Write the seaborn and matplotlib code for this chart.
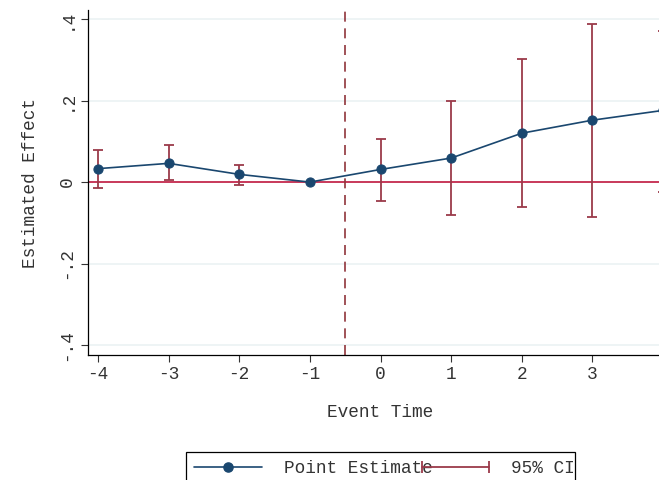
import numpy as np
import pandas as pd
import matplotlib
matplotlib.use("Agg")
import matplotlib.pyplot as plt
import seaborn as sns
from matplotlib.lines import Line2D
from matplotlib.patches import Rectangle
from matplotlib.legend_handler import HandlerLine2D

# ---- data ----
event_time = [-4, -3, -2, -1, 0, 1, 2, 3, 4]
estimate = [0.033, 0.046, 0.019, 0.0, 0.031, 0.059, 0.120, 0.152, 0.176]
ci_lower = [-0.015, 0.004, -0.006, np.nan, -0.047, -0.081, -0.062, -0.085, -0.025]
ci_upper = [0.080, 0.090, 0.042, np.nan, 0.107, 0.199, 0.303, 0.389, 0.370]
x_ticks = [-4, -3, -2, -1, 0, 1, 2, 3]
y_ticks = [-0.4, -0.2, 0.0, 0.2, 0.4]
y_tick_labels = ["-.4", "-.2", "0", ".2", ".4"]
ref_x = -0.5

sns.set_theme(style="white")
plt.rcParams['font.family'] = ['Liberation Mono', 'DejaVu Sans Mono']
FS = 12.8

navy = "#1a476f"
maroon = "#9b3a4a"
crimson = "#c8385a"
dashcol = "#90353b"

df = pd.DataFrame({"t": event_time, "b": estimate,
                   "lo": ci_lower, "hi": ci_upper})

fig = plt.figure(figsize=(6.59, 4.80), dpi=100)
W, H = 659, 480
ax = fig.add_axes([88 / W, 1 - 355 / H, (673 - 88) / W, (355 - 10) / H])

for y in y_ticks:
    ax.axhline(y, color="#eaf1f3", lw=1.1, zorder=0)

ax.axhline(0, color=crimson, lw=1.4, zorder=1)
ax.axvline(ref_x, color=dashcol, lw=1.2, ls=(0, (6, 4)), zorder=1)

err_lo = df["b"] - df["lo"]
err_hi = df["hi"] - df["b"]
ax.errorbar(df["t"], df["b"], yerr=[err_lo, err_hi], fmt="none",
            ecolor=maroon, elinewidth=1.3, capsize=3.3, capthick=1.3, zorder=2)

sns.lineplot(data=df, x="t", y="b", ax=ax, color=navy, lw=1.2,
             marker="o", markersize=6.6, markeredgecolor=navy,
             markerfacecolor=navy, zorder=3, legend=False)

ax.set_xlim(-4.141, 4.141)
ax.set_ylim(-0.4245, 0.4225)
ax.set_xticks(x_ticks)
ax.set_xticklabels([str(v) for v in x_ticks], fontsize=FS, color="#333333")
ax.set_yticks(y_ticks)
ax.set_yticklabels(y_tick_labels, fontsize=FS, rotation=90, va="center",
                   color="#333333")
ax.tick_params(axis="both", direction="out", length=5, width=0.8,
               color="#333333", bottom=True, left=True)
ax.tick_params(axis="x", pad=3)
ax.tick_params(axis="y", pad=4)

for s in ["top", "right"]:
    ax.spines[s].set_visible(False)
for s in ["left", "bottom"]:
    ax.spines[s].set_color("black")
    ax.spines[s].set_linewidth(0.9)

ax.set_xlabel("Event Time", fontsize=FS, color="#333333")
ax.set_ylabel("Estimated Effect", fontsize=FS, color="#333333")
ax.xaxis.set_label_coords((380 - 88) / (673 - 88), -(404 - 355) / 345)
ax.yaxis.set_label_coords(-(88 - 39) / 585, (355 - 183) / 345)

h1 = Line2D([], [], color=navy, lw=1.2, marker="o", markersize=6.6,
            markerfacecolor=navy, markeredgecolor=navy)
h2 = Line2D([], [], color=maroon, lw=1.3, marker="|", markersize=8,
            markeredgewidth=1.3)
leg = fig.legend([h1, h2], ["Point Estimate", "95% CI"],
                 loc="upper left", bbox_to_anchor=(186 / W, 1 - 452 / H),
                 ncol=2, fontsize=FS, frameon=False, borderpad=0.45,
                 handlelength=3.8, handletextpad=1.25, columnspacing=-0.62,
                 borderaxespad=0,
                 handler_map={h2: HandlerLine2D(numpoints=2, marker_pad=0),
                              h1: HandlerLine2D(numpoints=1)})
for t in leg.get_texts():
    t.set_color("#333333")

# legend frame (Stata-style box, clipped by the figure edge)
fig.patches.append(Rectangle((186 / W, -0.05), (575 - 186) / W,
                             (1 - 452 / H) + 0.05, transform=fig.transFigure,
                             fill=False, edgecolor="black", lw=0.9,
                             zorder=5))

fig.savefig("out.png", dpi=100)
